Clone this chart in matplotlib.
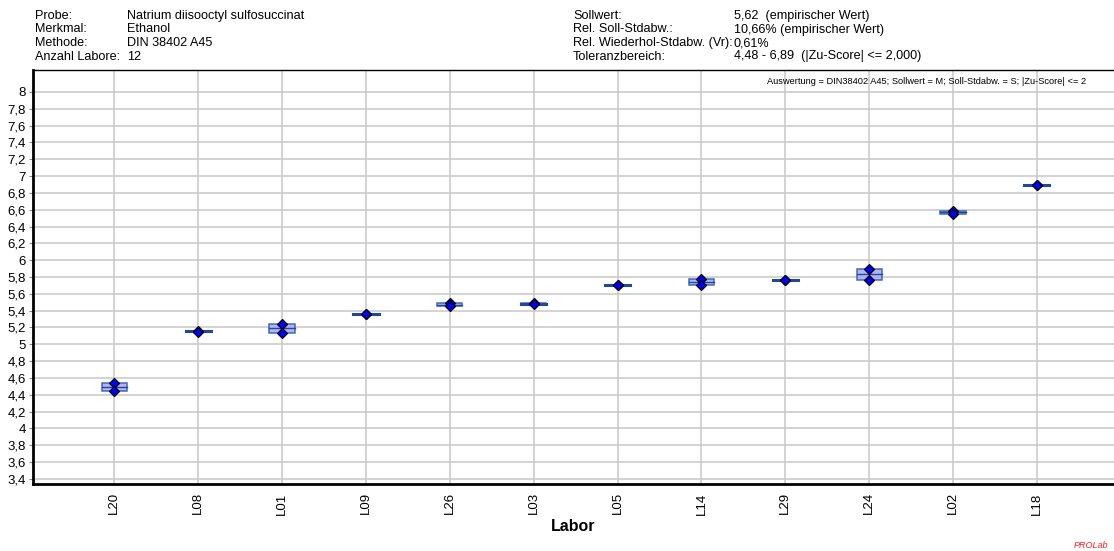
import matplotlib
matplotlib.use("Agg")
import matplotlib.pyplot as plt
from matplotlib.patches import Rectangle
import numpy as np

plt.rcParams["font.family"] = ["Liberation Sans", "DejaVu Sans"]

# Laboratories in ranking order and their two replicate results
labs = ["L20", "L08", "L01", "L09", "L26", "L03", "L05", "L14", "L29", "L24", "L02", "L18"]
rep1 = [4.54, 5.16, 5.24, 5.36, 5.49, 5.49, 5.71, 5.78, 5.77, 5.90, 6.59, 6.89]
rep2 = [4.45, 5.15, 5.14, 5.36, 5.45, 5.48, 5.70, 5.71, 5.76, 5.77, 6.55, 6.89]

y_ticks = np.round(np.arange(3.4, 8.0001, 0.2), 1)
y_tick_labels = [("%g" % v).replace(".", ",") for v in y_ticks]

header_left = [("Probe:", "Natrium diisooctyl sulfosuccinat"),
               ("Merkmal:", "Ethanol"),
               ("Methode:", "DIN 38402 A45"),
               ("Anzahl Labore:", "12")]
header_right = [("Sollwert:", "5,62  (empirischer Wert)"),
                ("Rel. Soll-Stdabw.:", "10,66% (empirischer Wert)"),
                ("Rel. Wiederhol-Stdabw. (Vr):", "0,61%"),
                ("Toleranzbereich:", "4,48 - 6,89  (|Zu-Score| <= 2,000)")]
note = "Auswertung = DIN38402 A45; Sollwert = M; Soll-Stdabw. = S; |Zu-Score| <= 2"

W, H = 1114, 551
top_px, bottom_px = 70, 484
fig = plt.figure(figsize=(W / 100, H / 100), dpi=100)
ax = fig.add_axes([33 / W, 1 - bottom_px / H, (W - 33) / W, (bottom_px - top_px) / H])

x = np.arange(len(labs))
ax.set_xlim(-0.97, 11.92)
ax.set_ylim(3.34, 8.26)

# grid
ax.set_yticks(y_ticks)
ax.set_yticklabels(y_tick_labels, fontsize=9.5)
ax.set_xticks(x)
ax.set_xticklabels(labs, rotation=90, fontsize=9.5)
ax.grid(True, color="#c8c8c8", lw=1.1, zorder=0)
ax.set_axisbelow(True)
ax.tick_params(axis="y", length=3, width=0.8, color="#888888", pad=2)
ax.tick_params(axis="x", length=0, pad=6)

for side in ("left", "bottom"):
    ax.spines[side].set_linewidth(2.0)
ax.spines["top"].set_linewidth(1.0)
ax.spines["right"].set_visible(False)

box_w = 0.30
for xi, a, b in zip(x, rep1, rep2):
    lo, hi = min(a, b), max(a, b)
    mid = (a + b) / 2
    ax.add_patch(Rectangle((xi - box_w / 2, lo), box_w, hi - lo,
                           facecolor="#adadf4", edgecolor="#2f5fae", lw=1.1,
                           alpha=0.9, zorder=3))
    ax.plot([xi - box_w / 2, xi + box_w / 2], [mid, mid], color="#1f4a9c",
            lw=2.2 if hi - lo < 0.02 else 1.0, zorder=4)
    ax.plot([xi, xi], [a, b], ls="none", marker="D", ms=5.5,
            mfc="#0000ff", mec="black", mew=0.9, zorder=5)

ax.set_xlabel("Labor", fontsize=11.5, fontweight="bold", labelpad=3)

fig.text(1086 / W, 1 - 81 / H, note, ha="right", va="center", fontsize=6.7)

# header block, aligned on text baselines
baselines = [19, 32.5, 46, 59.5]
for (k, v), yy in zip(header_left, baselines):
    fig.text(35 / W, 1 - yy / H, k, fontsize=9.1, va="baseline")
    fig.text(127 / W, 1 - yy / H, v, fontsize=9.1, va="baseline")
for (k, v), yy in zip(header_right, baselines):
    fig.text(573 / W, 1 - yy / H, k, fontsize=9.1, va="baseline")
    fig.text(734 / W, 1 - yy / H, v, fontsize=9.1, va="baseline")

fig.text(1108 / W, 1 - 546 / H, "PROLab", fontsize=6.5, color="#ff2020",
         style="italic", ha="right", va="center")

fig.savefig("out.png", dpi=100)
